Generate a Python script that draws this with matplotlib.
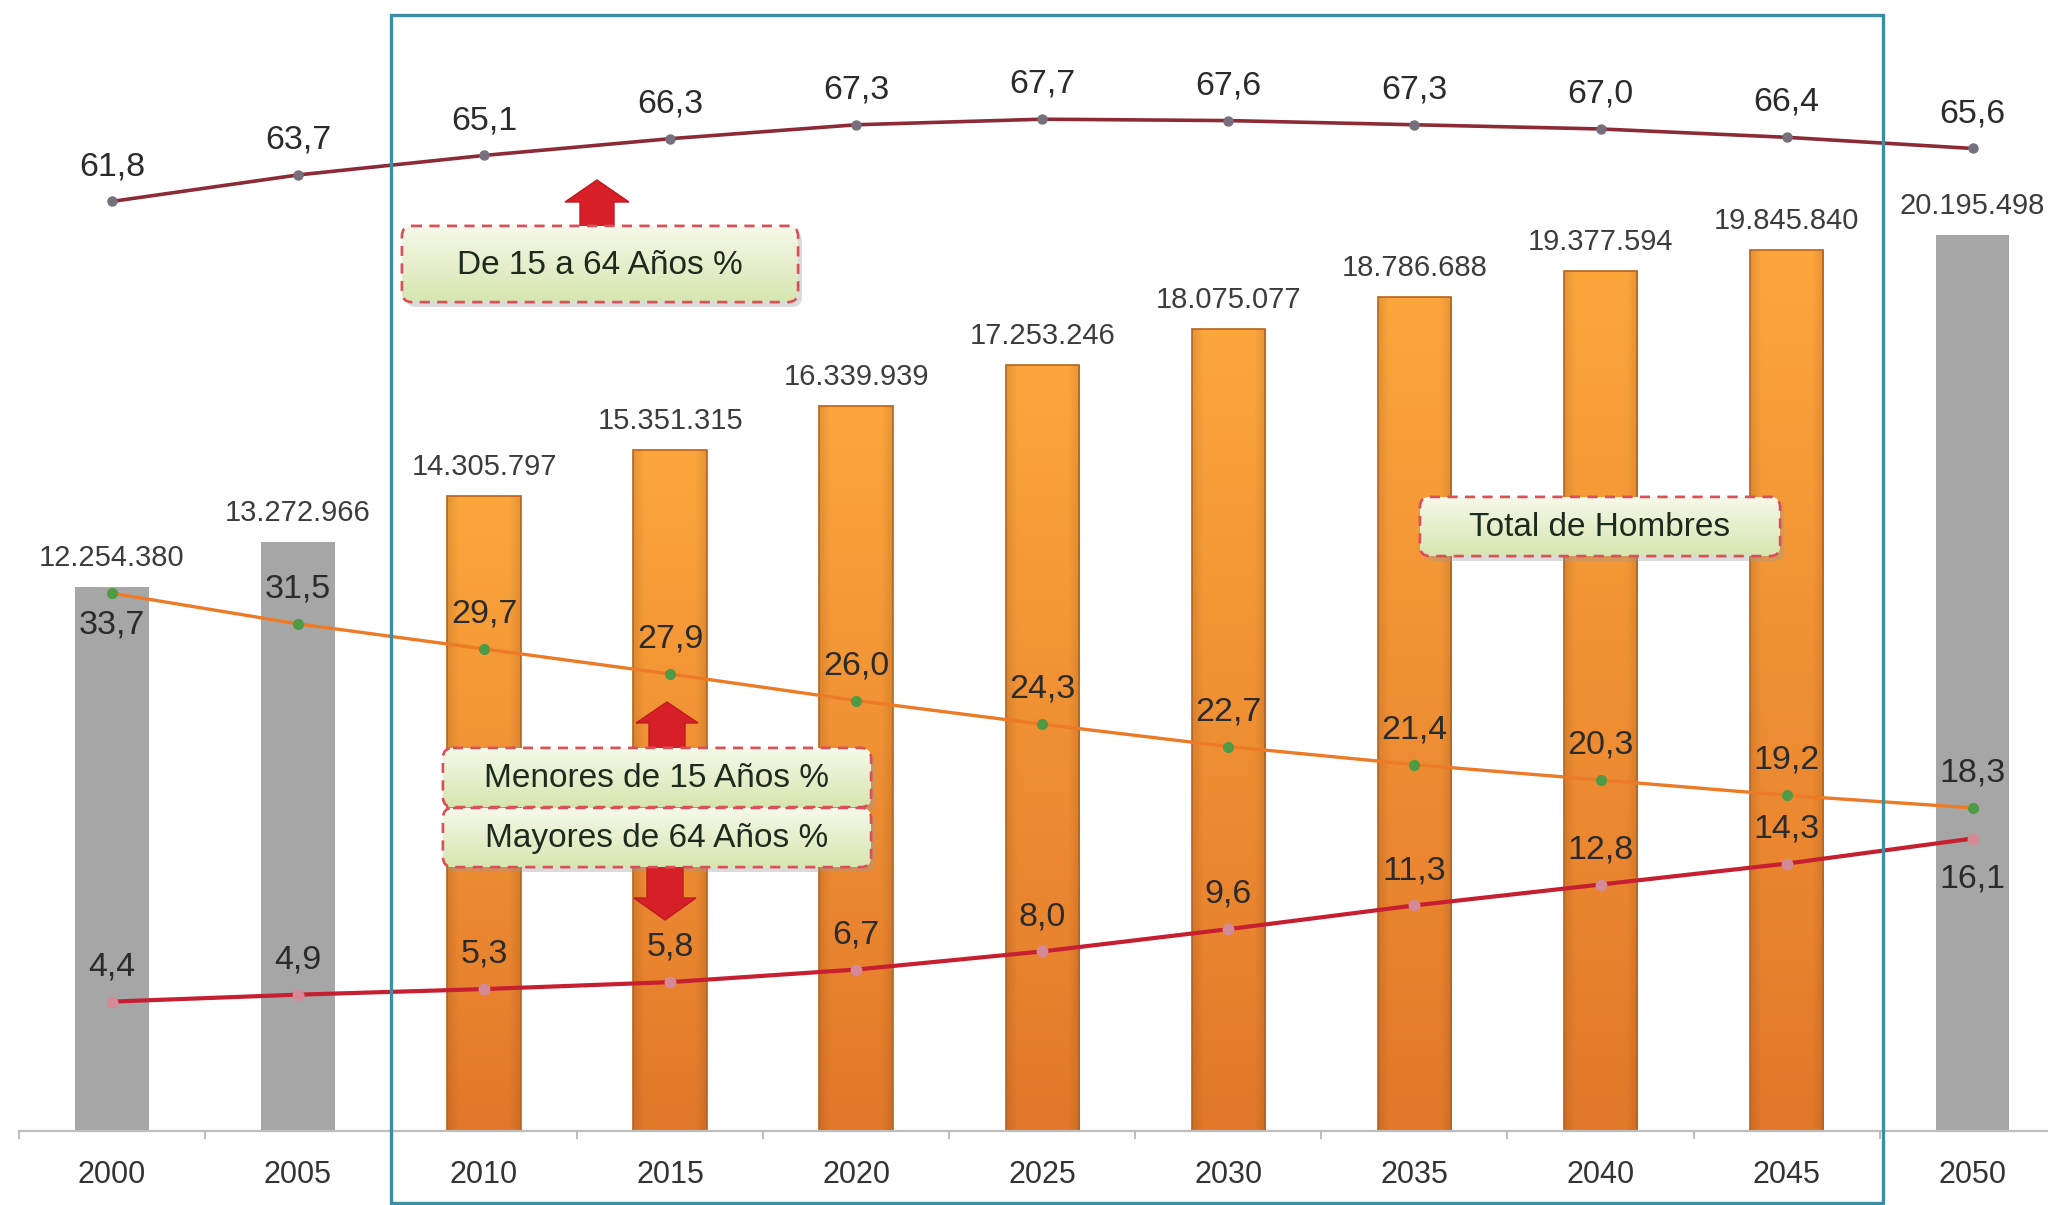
import matplotlib
matplotlib.use("Agg")
import matplotlib.pyplot as plt
import numpy as np
from matplotlib.patches import FancyBboxPatch, Rectangle, Polygon
from matplotlib.colors import LinearSegmentedColormap

plt.rcParams['font.family'] = ['Liberation Sans', 'DejaVu Sans']

# ---------------- data ----------------
years = ['2000', '2005', '2010', '2015', '2020', '2025', '2030', '2035', '2040', '2045', '2050']
total_hombres = [12254380, 13272966, 14305797, 15351315, 16339939, 17253246,
                 18075077, 18786688, 19377594, 19845840, 20195498]
de_15_a_64 = [61.8, 63.7, 65.1, 66.3, 67.3, 67.7, 67.6, 67.3, 67.0, 66.4, 65.6]
menores_15 = [33.7, 31.5, 29.7, 27.9, 26.0, 24.3, 22.7, 21.4, 20.3, 19.2, 18.3]
mayores_64 = [4.4, 4.9, 5.3, 5.8, 6.7, 8.0, 9.6, 11.3, 12.8, 14.3, 16.1]
proyectado = [False, False, True, True, True, True, True, True, True, True, False]

W, H = 2062, 1205
fig = plt.figure(figsize=(W / 100, H / 100), dpi=100)
fig.patch.set_facecolor('white')

ax = fig.add_axes([0, 74 / H, 1, 1131 / H])
ax.set_xlim(-0.601, 10.48)
ax.set_ylim(0, 25.48e6)
ax.patch.set_visible(False)
x = np.arange(len(years))

# ---------------- bars ----------------
bar_colors = ['#f39226' if p else '#a6a6a6' for p in proyectado]
bars = ax.bar(x, total_hombres, width=0.395, color=bar_colors, zorder=2, linewidth=0)

# 2D shading image for the orange bars (lighter top, darker bottom and sides)
top_c = np.array([252, 166, 60]) / 255
bot_c = np.array([226, 120, 42]) / 255
vy = np.linspace(0, 1, 200).reshape(-1, 1, 1)
vx = np.linspace(-1, 1, 60).reshape(1, -1, 1)
base = top_c * (1 - vy) + bot_c * vy
side = 1 - 0.10 * np.clip((np.abs(vx) - 0.7) / 0.3, 0, 1)
shade = np.clip(base * side, 0, 1)

for b, p in zip(bars, proyectado):
    if not p:
        continue
    bx, by = b.get_x(), b.get_y()
    bw, bh = b.get_width(), b.get_height()
    im = ax.imshow(shade, extent=(bx, bx + bw, by, by + bh), origin='upper',
                   aspect='auto', zorder=2.1, interpolation='bilinear')
    im.set_clip_path(b)
    edge = Rectangle((bx, by), bw, bh, fill=False, ec='#b8621c', lw=1.2, zorder=2.2)
    ax.add_patch(edge)
ax.set_xlim(-0.601, 10.48)
ax.set_ylim(0, 25.48e6)

for i, v in enumerate(total_hombres):
    lab = f"{v:,}".replace(',', '.')
    ax.annotate(lab, (x[i], v), xytext=(0, 15), textcoords='offset points',
                ha='center', va='baseline', fontsize=21, color='#3c3c3c', zorder=5)

# axis
for s in ['left', 'right', 'top']:
    ax.spines[s].set_visible(False)
ax.spines['bottom'].set_color('#bdbdbd')
ax.spines['bottom'].set_linewidth(1.6)
ax.spines['bottom'].set_bounds(-0.5, 10.4)
ax.set_yticks([])
ax.set_xticks(x)
ax.set_xticklabels(years, fontsize=22, color='#333333')
ax.tick_params(axis='x', which='major', length=0, pad=21)
ax.set_xticks(np.arange(-0.5, 10.0, 1.0), minor=True)
ax.tick_params(axis='x', which='minor', length=6, width=1.4, color='#bdbdbd', direction='out')

# ---------------- lines ----------------
ax2 = ax.twinx()
ax2.set_ylim(-4.88, 76.25)
ax2.set_xlim(-0.601, 10.48)
for s in ax2.spines.values():
    s.set_visible(False)
ax2.set_yticks([])

ax2.plot(x, de_15_a_64, color='#8c2a36', lw=2.6, marker='o', ms=6.5,
         mfc='#76707c', mec='#76707c', zorder=3)
ax2.plot(x, menores_15, color='#ec7a26', lw=2.4, marker='o', ms=7,
         mfc='#4f9a45', mec='#4f9a45', zorder=3)
ax2.plot(x, mayores_64, color='#c61f32', lw=3.0, marker='o', ms=7.5,
         mfc='#d58a97', mec='#d58a97', zorder=3)

def fmt(v):
    return f"{v:.1f}".replace('.', ',')

below_menores = {0}
below_mayores = {10}
for i in range(len(years)):
    ax2.annotate(fmt(de_15_a_64[i]), (x[i], de_15_a_64[i]), xytext=(0, 19),
                 textcoords='offset points', ha='center', va='baseline',
                 fontsize=24.5, color='#2b2b2b', zorder=6)
    off = -29 if i in below_menores else 19
    ax2.annotate(fmt(menores_15[i]), (x[i], menores_15[i]), xytext=(0, off),
                 textcoords='offset points', ha='center', va='baseline',
                 fontsize=24.5, color='#2b2b2b', zorder=6)
    off = -35 if i in below_mayores else 19
    ax2.annotate(fmt(mayores_64[i]), (x[i], mayores_64[i]), xytext=(0, off),
                 textcoords='offset points', ha='center', va='baseline',
                 fontsize=24.5, color='#2b2b2b', zorder=6)

# ---------------- overlay (frame, boxes, arrows) ----------------
ov = fig.add_axes([0, 0, 1, 1])
ov.set_xlim(0, W)
ov.set_ylim(H, 0)
ov.axis('off')
ov.patch.set_visible(False)

ov.add_patch(Rectangle((391, 15), 1883 - 391, 1203 - 15, fill=False,
                       ec='#3a8fa3', lw=2.4, zorder=1))

box_cmap = LinearSegmentedColormap.from_list('g', ['#f6f9ea', '#e6efcc', '#d7e6b0'])

def box(x0, y0, x1, y1, text):
    sh = FancyBboxPatch((x0 + 4, y0 + 5), x1 - x0, y1 - y0,
                        boxstyle='round,pad=0,rounding_size=10',
                        fc='#9a9a9a', ec='none', alpha=0.35, zorder=4)
    ov.add_patch(sh)
    p = FancyBboxPatch((x0, y0), x1 - x0, y1 - y0,
                       boxstyle='round,pad=0,rounding_size=10',
                       fc='#e8f0cf', ec='#d9505a', lw=1.8, ls=(0, (4, 3)), zorder=5)
    ov.add_patch(p)
    im = ov.imshow(np.linspace(0, 1, 128).reshape(-1, 1), extent=(x0, x1, y1, y0),
                   origin='upper', cmap=box_cmap, aspect='auto', zorder=5.1)
    im.set_clip_path(p)
    p2 = FancyBboxPatch((x0, y0), x1 - x0, y1 - y0,
                        boxstyle='round,pad=0,rounding_size=10',
                        fc='none', ec='#d9505a', lw=1.8, ls=(0, (4, 3)), zorder=5.2)
    ov.add_patch(p2)
    ov.text((x0 + x1) / 2, (y0 + y1) / 2 + 1, text, ha='center', va='center',
            fontsize=24, color='#1d2a1d', zorder=6)

def arrow(cx, tip, base, hw, hl, sw):
    d = 1 if base > tip else -1
    hb = tip + d * hl
    pts = [(cx - sw / 2, base), (cx - sw / 2, hb), (cx - hw / 2, hb), (cx, tip),
           (cx + hw / 2, hb), (cx + sw / 2, hb), (cx + sw / 2, base)]
    ov.add_patch(Polygon(pts, closed=True, fc='#d61f26', ec='#c01a22', lw=1, zorder=4.5))

arrow(597, 180, 228, 64, 22, 34)
arrow(667, 702, 750, 62, 21, 36)
arrow(665, 920, 866, 62, 22, 36)

box(402, 226, 798, 302, 'De 15 a 64 Años %')
box(443, 748, 871, 807, 'Menores de 15 Años %')
box(443, 808, 871, 867, 'Mayores de 64 Años %')
box(1420, 497, 1780, 556, 'Total de Hombres')

ov.set_xlim(0, W)
ov.set_ylim(H, 0)

fig.savefig('out.png', dpi=100, facecolor='white')
